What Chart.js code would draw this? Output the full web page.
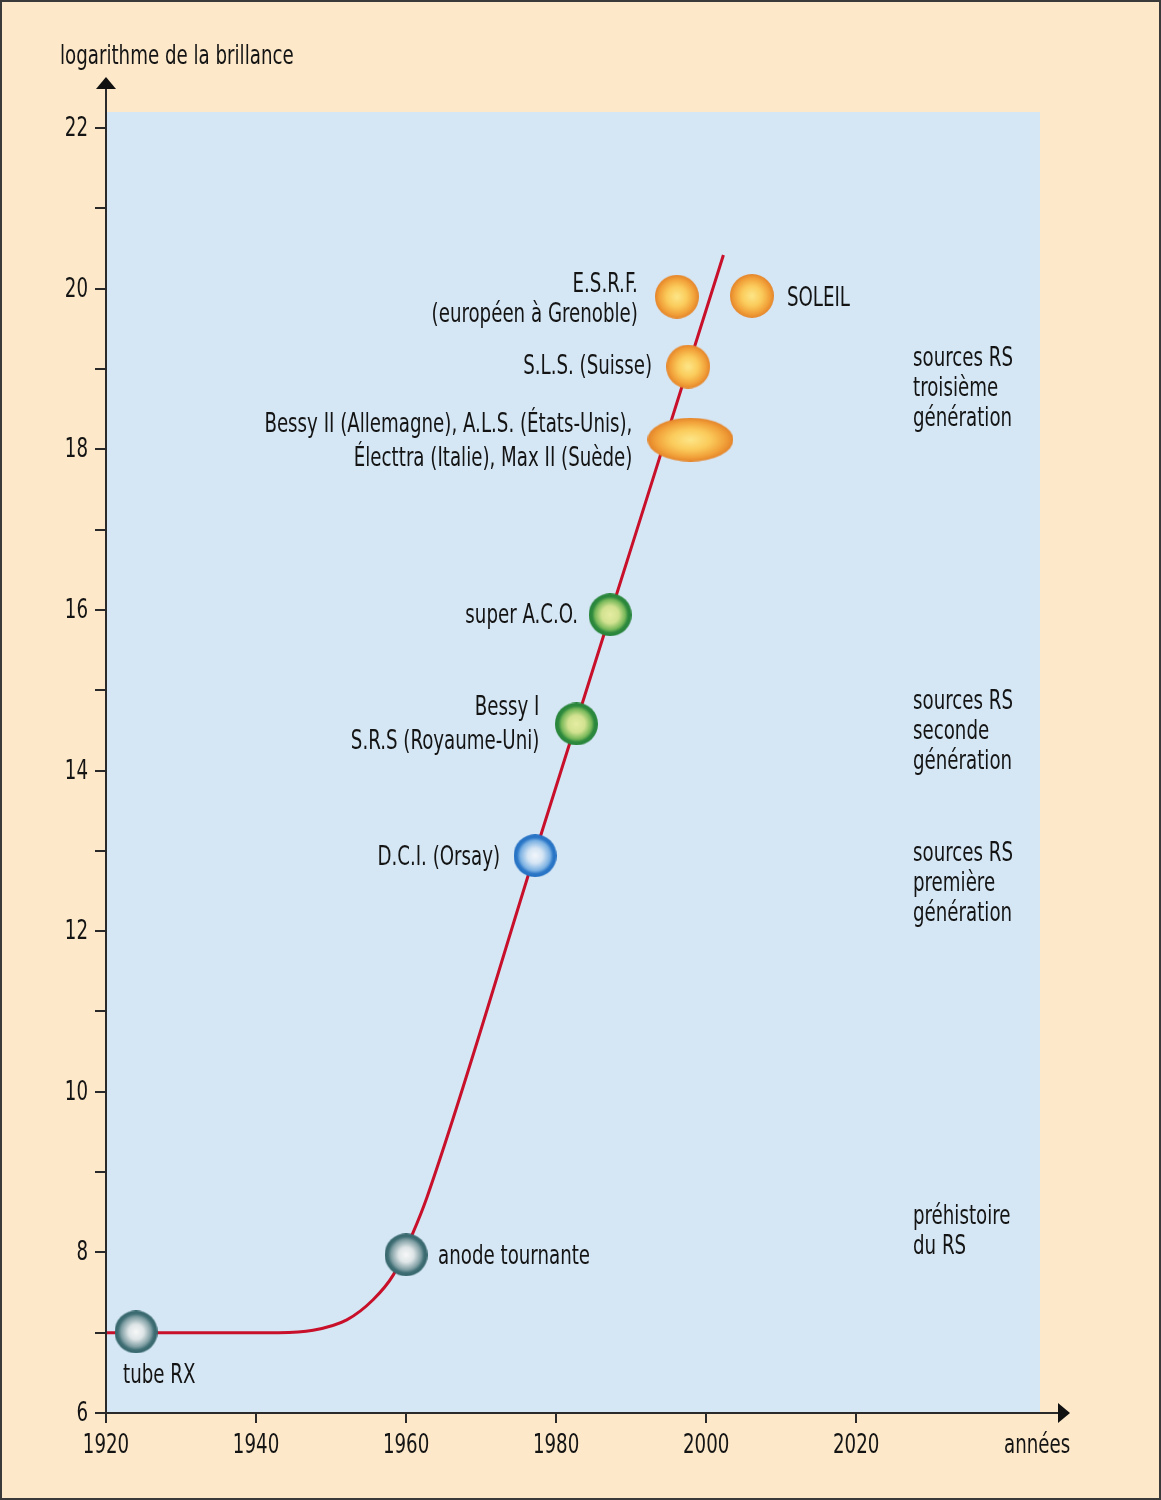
<!DOCTYPE html>
<html>
<head>
<meta charset="utf-8">
<script src="https://cdn.jsdelivr.net/npm/chart.js@4.4.1/dist/chart.umd.min.js"></script>
<style>
  body { margin: 0; background: #fde8c9; }
  #wrap { width: 1161px; height: 1500px; }
</style>
</head>
<body>
<div id="wrap"><canvas id="brillanceChart" width="1161" height="1500"></canvas></div>
<script>
// Evolution curve (year, log of brilliance)
const curveYears = [1920, 1943, 1947.6, 1952.1, 1955.6, 1958.3, 1960.9, 1962.8, 1977.2, 1990, 2002.3];
const curveValues = [7, 7, 7.03, 7.16, 7.41, 7.72, 8.24, 8.69, 12.97, 16.77, 20.42];

// Sources (markers)
const sourceNames = ['tube RX', 'anode tournante', 'D.C.I.', 'Bessy I', 'super A.C.O.', 'Bessy II', 'S.L.S.', 'E.S.R.F.', 'SOLEIL'];
const sourceYears = [1924, 1960, 1977.2, 1982.7, 1987.2, 1997.9, 1997.6, 1996.1, 2006.1];
const sourceValues = [7.01, 7.97, 12.94, 14.58, 15.94, 18.12, 19.03, 19.9, 19.91];
const sourceKinds = ['pre', 'pre', 'first', 'second', 'second', 'thirdWide', 'third', 'third', 'third'];

// Axis ticks
const xTicks = [1920, 1940, 1960, 1980, 2000, 2020];
const yTicks = [6, 8, 10, 12, 14, 16, 18, 20, 22];

// Generation captions (right column)
const generationLines = [
    ['sources RS', 'troisième', 'génération'],
    ['sources RS', 'seconde', 'génération'],
    ['sources RS', 'première', 'génération'],
    ['préhistoire', 'du RS']
];
const generationValues = [19.14, 14.87, 12.97, 8.45];

// Labels next to markers: [source index, lines, align, dx, dy, line height]
const sourceLabels = [
    [0, ['tube RX'], 'left', -13, 43, 30],
    [1, ['anode tournante'], 'left', 32, 1, 30],
    [2, ['D.C.I. (Orsay)'], 'right', -35, 1, 30],
    [3, ['Bessy I', 'S.R.S (Royaume-Uni)'], 'right', -37, -17, 34],
    [4, ['super A.C.O.'], 'right', -32, 0, 30],
    [5, ['Bessy II (Allemagne), A.L.S. (États-Unis),', 'Électtra (Italie), Max II (Suède)'], 'right', -58, -16, 34],
    [6, ['S.L.S. (Suisse)'], 'right', -36, -1, 30],
    [7, ['E.S.R.F.', '(européen à Grenoble)'], 'right', -39, -13, 30],
    [8, ['SOLEIL'], 'left', 35, 2, 30]
];

const FONT = '"DejaVu Sans Condensed", "Liberation Sans Narrow", sans-serif';
const INK = '#141414';

function makeMarker(w, h, stops) {
    const c = document.createElement('canvas');
    c.width = w;
    c.height = h;
    const g = c.getContext('2d');
    g.translate(w / 2, h / 2);
    g.scale(w / h, 1);
    const r = h / 2;
    const grad = g.createRadialGradient(0, 0, 0, 0, 0, r);
    stops.forEach(s => grad.addColorStop(s[0], s[1]));
    g.fillStyle = grad;
    g.beginPath();
    g.arc(0, 0, r, 0, Math.PI * 2);
    g.fill();
    return c;
}

const orangeStops = [[0, '#fde688'], [0.45, '#fbcc5c'], [0.8, '#f2a23a'], [1, '#e4842a']];
const markerImages = {
    pre: makeMarker(43, 43, [[0, '#f7f8f8'], [0.35, '#dfe6e8'], [0.7, '#7f9ea3'], [0.84, '#3f6f75'], [1, '#36666c']]),
    first: makeMarker(43, 43, [[0, '#f2f6fb'], [0.35, '#d6e6f5'], [0.7, '#7ab0e2'], [0.84, '#2d78c8'], [1, '#2470c2']]),
    second: makeMarker(43, 43, [[0, '#e6eda4'], [0.4, '#d2e290'], [0.7, '#78b85a'], [0.84, '#2e8a3e'], [1, '#26843a']]),
    third: makeMarker(44, 44, orangeStops),
    thirdWide: makeMarker(86, 44, orangeStops)
};

const backgroundPlugin = {
    id: 'background',
    beforeDraw(chart) {
        const { ctx, chartArea: a, width, height } = chart;
        ctx.save();
        ctx.fillStyle = '#fde8c9';
        ctx.fillRect(0, 0, width, height);
        ctx.strokeStyle = '#3a3a3a';
        ctx.lineWidth = 2;
        ctx.strokeRect(1, 1, width - 2, height - 2);
        ctx.fillStyle = '#d5e7f5';
        ctx.fillRect(a.left, a.top, a.right - a.left, a.bottom - a.top);
        ctx.restore();
    }
};

// condensed text, like the original typeface
function drawText(ctx, text, x, y, align) {
    ctx.save();
    ctx.translate(x, y);
    ctx.scale(0.75, 1);
    ctx.textAlign = align;
    ctx.fillText(text, 0, 0);
    ctx.restore();
}

const annotationPlugin = {
    id: 'annotations',
    afterDraw(chart) {
        const { ctx, chartArea: a } = chart;
        const xs = chart.scales.x;
        const ys = chart.scales.y;
        ctx.save();

        // axes with arrows
        ctx.strokeStyle = '#2a2a2a';
        ctx.fillStyle = '#111';
        ctx.lineWidth = 2;
        ctx.beginPath();
        ctx.moveTo(a.left, a.bottom);
        ctx.lineTo(a.left, 86);
        ctx.moveTo(a.left, a.bottom);
        ctx.lineTo(1062, a.bottom);
        ctx.stroke();
        ctx.beginPath();
        ctx.moveTo(a.left, 77);
        ctx.lineTo(a.left - 10, 89);
        ctx.lineTo(a.left + 10, 89);
        ctx.closePath();
        ctx.fill();
        ctx.beginPath();
        ctx.moveTo(1070, a.bottom);
        ctx.lineTo(1058, a.bottom - 10);
        ctx.lineTo(1058, a.bottom + 10);
        ctx.closePath();
        ctx.fill();

        ctx.fillStyle = INK;
        ctx.textBaseline = 'middle';
        ctx.font = '27px ' + FONT;

        // tick labels
        xTicks.forEach(v => drawText(ctx, String(v), xs.getPixelForValue(v), 1446, 'center'));
        yTicks.forEach(v => drawText(ctx, String(v), 88, ys.getPixelForValue(v) + 1, 'right'));

        // axis titles
        drawText(ctx, 'logarithme de la brillance', 60, 57, 'left');
        drawText(ctx, 'années', 1004, 1446, 'left');

        // source labels
        sourceLabels.forEach(([i, lines, align, dx, dy, lh]) => {
            const px = xs.getPixelForValue(sourceYears[i]);
            const py = ys.getPixelForValue(sourceValues[i]);
            lines.forEach((t, k) => drawText(ctx, t, px + dx, py + dy + 1 + k * lh, align));
        });

        // generation captions
        generationLines.forEach((lines, i) => {
            const py = ys.getPixelForValue(generationValues[i]);
            lines.forEach((t, k) => drawText(ctx, t, 913, py + 1 + k * 30, 'left'));
        });
        ctx.restore();
    }
};

new Chart(document.getElementById('brillanceChart'), {
    type: 'scatter',
    data: {
        datasets: [{
            label: 'sources',
            data: sourceYears.map((x, i) => ({ x: x, y: sourceValues[i] })),
            pointStyle: sourceKinds.map(k => markerImages[k]),
            showLine: false
        }, {
            label: 'brillance',
            data: curveYears.map((x, i) => ({ x: x, y: curveValues[i] })),
            showLine: true,
            borderColor: '#c8102a',
            borderWidth: 3,
            pointRadius: 0,
            cubicInterpolationMode: 'monotone',
            fill: false
        }]
    },
    options: {
        responsive: false,
        animation: false,
        layout: { padding: { top: 112, right: 121, left: 0, bottom: 0 } },
        plugins: {
            legend: { display: false },
            tooltip: { enabled: false }
        },
        scales: {
            x: {
                type: 'linear',
                min: 1920,
                max: 2044.5,
                afterFit: scale => { scale.height = 87; },
                afterBuildTicks: scale => { scale.ticks = xTicks.map(v => ({ value: v })); },
                border: { display: false },
                grid: { drawOnChartArea: false, drawTicks: true, tickLength: 10, color: '#2a2a2a', lineWidth: 2 },
                ticks: { display: false }
            },
            y: {
                type: 'linear',
                min: 6,
                max: 22.2,
                afterFit: scale => { scale.width = 106; },
                afterBuildTicks: scale => {
                    const t = [];
                    for (let v = 6; v <= 22; v++) t.push({ value: v });
                    scale.ticks = t;
                },
                border: { display: false },
                grid: { drawOnChartArea: false, drawTicks: true, tickLength: 11, color: '#2a2a2a', lineWidth: 2 },
                ticks: { display: false }
            }
        }
    },
    plugins: [backgroundPlugin, annotationPlugin]
});
</script>
</body>
</html>
